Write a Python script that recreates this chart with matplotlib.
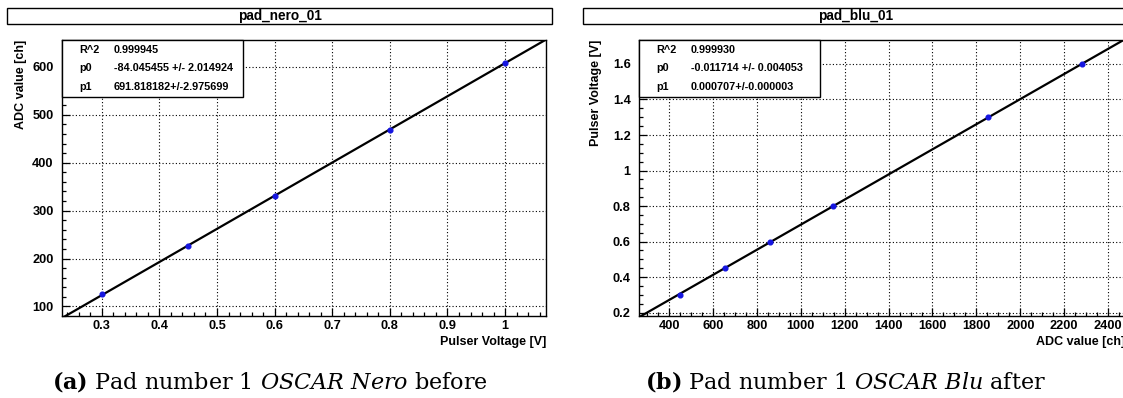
import matplotlib
matplotlib.use("Agg")
import matplotlib.pyplot as plt
from matplotlib.patches import Rectangle
from matplotlib.ticker import MultipleLocator, FuncFormatter
import numpy as np

# ---------------- data ----------------
nero_voltage = [0.30, 0.45, 0.60, 0.80, 1.00]
nero_adc = [125, 227, 330, 469, 608]
nero_fit = [-84.045455, 691.818182]
nero_stats = [("R^2", "0.999945"),
              ("p0", "-84.045455 +/- 2.014924"),
              ("p1", "691.818182+/-2.975699")]

blu_adc = [450, 655, 862, 1145, 1855, 2283]
blu_voltage = [0.30, 0.45, 0.60, 0.80, 1.30, 1.60]
blu_fit = [-0.011714, 0.000707]
blu_stats = [("R^2", "0.999930"),
             ("p0", "-0.011714 +/- 0.004053"),
             ("p1", "0.000707+/-0.000003")]

titles = ["pad_nero_01", "pad_blu_01"]
xlabels = ["Pulser Voltage [V]", "ADC value [ch]"]
ylabels = ["ADC value [ch]", "Pulser Voltage [V]"]
captions = [r"$\mathbf{(a)}$ Pad number 1 $\mathit{OSCAR\ Nero}$ before",
            r"$\mathbf{(b)}$ Pad number 1 $\mathit{OSCAR\ Blu}$ after"]

plt.rcParams['font.family'] = ['Liberation Sans', 'DejaVu Sans']
plt.rcParams['mathtext.fontset'] = 'custom'
plt.rcParams['mathtext.rm'] = 'DejaVu Serif'
plt.rcParams['mathtext.it'] = 'DejaVu Serif:italic'
plt.rcParams['mathtext.bf'] = 'DejaVu Serif:bold'

W, H = 1123, 398
fig = plt.figure(figsize=(W / 100, H / 100), dpi=100)


def px_axes(x0, y0, x1, y1):
    return fig.add_axes([x0 / W, 1 - y1 / H, (x1 - x0) / W, (y1 - y0) / H])


panels = [
    dict(ax=(62, 40, 546, 316), title=(7, 8, 552, 24),
         x=nero_voltage, y=nero_adc, fit=nero_fit, stats=nero_stats,
         xlim=(0.231, 1.071), ylim=(80, 656),
         xmaj=0.1, xmin=0.02, ymaj=100, ymin=20,
         stat_right=243, ylab_x=27.5, cap_x=270),
    dict(ax=(639, 40, 1125, 316), title=(583, 8, 1128, 24),
         x=blu_adc, y=blu_voltage, fit=blu_fit, stats=blu_stats,
         xlim=(263, 2477), ylim=(0.181, 1.735),
         xmaj=200, xmin=50, ymaj=0.2, ymin=0.05,
         stat_right=820, ylab_x=602.5, cap_x=845),
]

fmt = FuncFormatter(lambda v, pos: "%g" % round(v, 6))

for i, p in enumerate(panels):
    x0, y0, x1, y1 = p['ax']
    ax = px_axes(x0, y0, x1, y1)
    ax.set_xlim(*p['xlim'])
    ax.set_ylim(*p['ylim'])

    # fit line across the full x range
    xs = np.array(p['xlim'])
    ax.plot(xs, p['fit'][0] + p['fit'][1] * xs, color='black', lw=1.6, zorder=3)
    ax.plot(p['x'], p['y'], 'o', color='#1515e0', ms=3.4, mec='#1515e0', zorder=4)

    ax.xaxis.set_major_locator(MultipleLocator(p['xmaj']))
    ax.xaxis.set_minor_locator(MultipleLocator(p['xmin']))
    ax.yaxis.set_major_locator(MultipleLocator(p['ymaj']))
    ax.yaxis.set_minor_locator(MultipleLocator(p['ymin']))
    ax.xaxis.set_major_formatter(fmt)
    ax.yaxis.set_major_formatter(fmt)

    ax.tick_params(which='both', direction='in', top=False, right=False, width=0.9, color='black')
    ax.tick_params(which='major', length=5.5)
    ax.tick_params(which='minor', length=2.6)
    ax.tick_params(axis='x', which='major', pad=3, labelsize=9.2)
    ax.tick_params(axis='y', which='major', pad=6, labelsize=9.2)
    for lab in ax.get_xticklabels() + ax.get_yticklabels():
        lab.set_fontweight('bold')

    ax.grid(True, which='major', color='black', linestyle=(0, (1, 2)), linewidth=0.8)
    ax.set_axisbelow(True)
    for s in ax.spines.values():
        s.set_linewidth(1.0)
        s.set_color('black')

    ax.set_xlabel(xlabels[i], fontsize=9, fontweight='bold', loc='right')
    ax.xaxis.set_label_coords(1.0, -(336 - y1) / (y1 - y0))
    ax.set_ylabel(ylabels[i], fontsize=9, fontweight='bold', loc='top')
    ax.yaxis.set_label_coords((p['ylab_x'] - x0) / (x1 - x0), 1.0)

    # stats box
    bw = (p['stat_right'] - x0) / (x1 - x0)
    bh = (97 - y0) / (y1 - y0)
    ax.add_patch(Rectangle((0, 1 - bh), bw, bh, transform=ax.transAxes,
                           facecolor='white', edgecolor='black', lw=1.0, zorder=5,
                           clip_on=False))
    rows = [50, 68, 87]
    for (name, val), ry in zip(p['stats'], rows):
        yy = (y1 - ry) / (y1 - y0)
        ax.text(17 / (x1 - x0), yy, name, transform=ax.transAxes,
                fontsize=7.8, fontweight='bold', va='center', ha='left', zorder=6)
        ax.text(52 / (x1 - x0), yy, val, transform=ax.transAxes,
                fontsize=7.8, fontweight='bold', va='center', ha='left', zorder=6)

    # title box
    tx0, ty0, tx1, ty1 = p['title']
    fig.patches.append(Rectangle((tx0 / W, 1 - ty1 / H), (tx1 - tx0) / W, (ty1 - ty0) / H,
                                 transform=fig.transFigure, facecolor='white',
                                 edgecolor='black', lw=1.0))
    fig.text(((tx0 + tx1) / 2) / W, 1 - ((ty0 + ty1) / 2) / H, titles[i],
             ha='center', va='center', fontsize=9.8, fontweight='bold')

    # caption
    fig.text(p['cap_x'] / W, 1 - 381 / H, captions[i], ha='center', va='center',
             fontsize=16, family='DejaVu Serif')

fig.savefig("out.png", dpi=100)
